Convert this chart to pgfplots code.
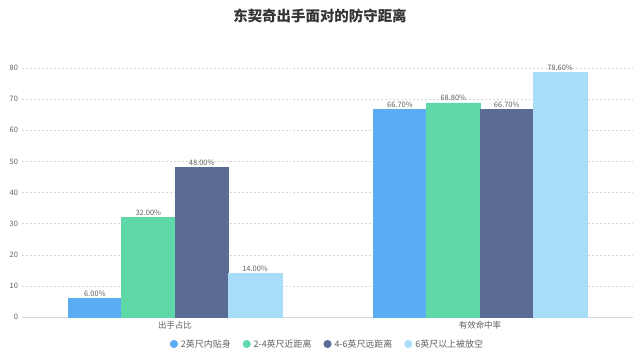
\documentclass[border=0pt]{standalone}
\usepackage{fontspec}
\setmainfont{Noto Sans CJK SC}
\usepackage{pgfplots}
\pgfplotsset{compat=1.18}
\definecolor{c1}{RGB}{90,173,243}
\definecolor{c2}{RGB}{95,216,168}
\definecolor{c3}{RGB}{90,107,148}
\definecolor{c4}{RGB}{168,221,248}
\definecolor{txt}{RGB}{95,95,95}
\definecolor{gridc}{RGB}{215,215,215}
\begin{document}
\begin{tikzpicture}
\useasboundingbox (-22.5bp,-44bp) rectangle (617.5bp,317bp);
\begin{axis}[
  at={(0,0)}, anchor=south west,
  scale only axis, width=610bp, height=249bp,
  ybar=0pt, bar width=0.175,
  xmin=-0.5, xmax=1.5, ymin=0, ymax=80,
  xtick=data, xticklabels={出手占比,有效命中率},
  ytick={0,10,...,80},
  axis y line*=left, axis x line*=bottom,
  y axis line style={draw=none},
  x axis line style={draw=gridc, line width=0.8pt},
  major tick length=0pt,
  ymajorgrids, grid style={dash pattern=on 2pt off 2pt, gridc, line width=0.5pt},
  /pgf/number format/assume math mode=true,
  yticklabel style={font=\fontsize{7.5}{9}\selectfont, text=txt, xshift=-1pt},
  xticklabel style={font=\fontsize{8.5}{10}\selectfont, text=txt, yshift=-1pt},
  nodes near coords={\pgfmathprintnumber[fixed,fixed zerofill,precision=2,assume math mode=true]{\pgfplotspointmeta}\%},
  every node near coord/.append style={font=\fontsize{7.5}{9}\selectfont, text=txt, yshift=-1.5pt},
  legend style={at={(0.5,-27bp)}, anchor=center, draw=none, fill=none,
    font=\fontsize{9}{10}\selectfont, text=txt, column sep=1pt,
    /tikz/every even column/.append style={column sep=10pt}},
  legend columns=4,
  legend image code/.code={\fill[#1] (0.1cm,0cm) circle (3.8bp);},
]
\addplot[fill=c1, draw=c1] coordinates {(0,6) (1,66.7)};
\addplot[fill=c2, draw=c2] coordinates {(0,32) (1,68.8)};
\addplot[fill=c3, draw=c3] coordinates {(0,48) (1,66.7)};
\addplot[fill=c4, draw=c4] coordinates {(0,14) (1,78.6)};
\legend{2英尺内贴身,2-4英尺近距离,4-6英尺远距离,6英尺以上被放空}
\end{axis}
\node[font=\bfseries\fontsize{14.5}{16}\selectfont, text={rgb,255:red,51;green,51;blue,51}] at (297.5bp,301bp) {东契奇出手面对的防守距离};
\end{tikzpicture}
\end{document}
